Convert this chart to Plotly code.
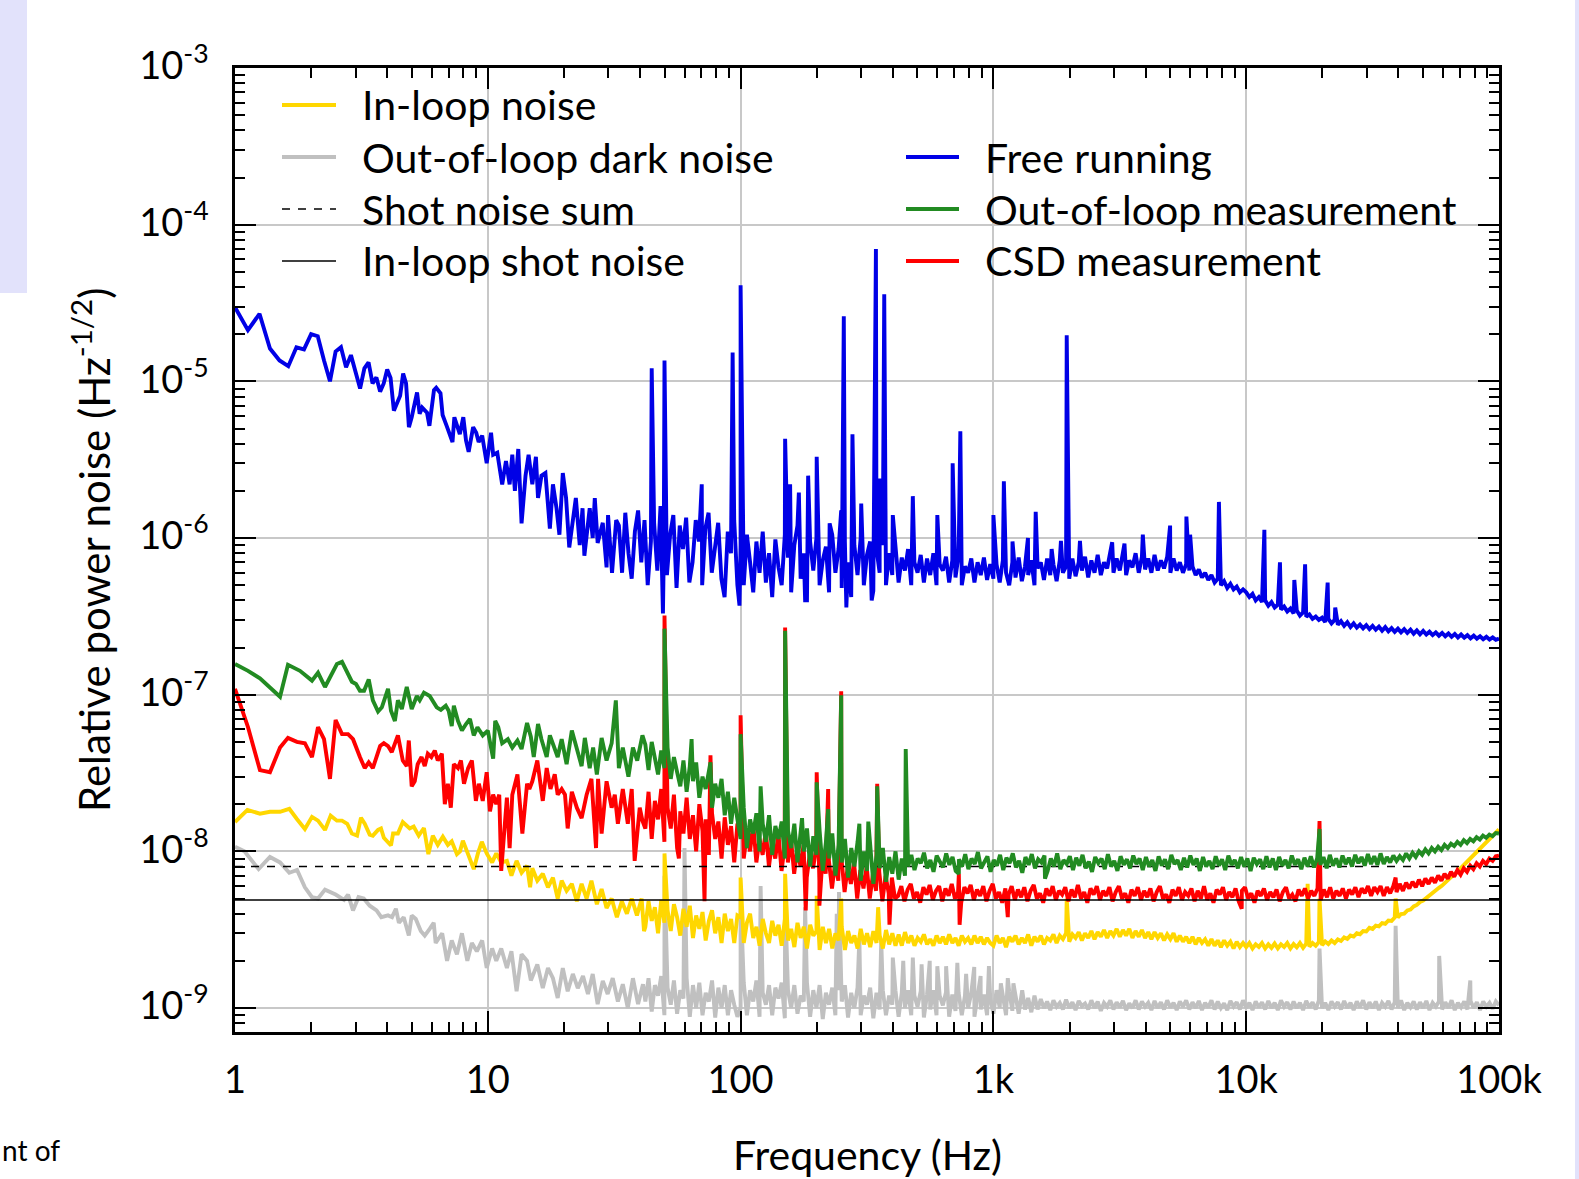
import numpy as np
import plotly.graph_objects as go

# ---------------------------------------------------------------------------
# Relative power noise spectra (amplitude spectral density, 1/sqrt(Hz))
# Each trace = low-frequency points (explicit f, value), blocks sampled on an
# even log-frequency grid, and narrow spectral lines / dips.
# ---------------------------------------------------------------------------

# ---- Free running (blue) ----
free_low_f = [1.0, 1.125, 1.25, 1.375, 1.5, 1.625, 1.75, 1.875, 2.0, 2.125, 2.25, 2.375, 2.5, 2.625,
              2.75, 2.875, 3.125, 3.25, 3.375, 3.5, 3.625, 3.75, 3.875, 4.0, 4.125, 4.25, 4.5, 4.625,
              4.75, 4.875, 5.0, 5.25, 5.375, 5.5, 5.75, 5.875, 6.125, 6.25, 6.5, 6.625, 6.875, 7.25,
              7.375, 7.75, 8.0, 8.2, 8.4, 8.75, 9.0, 9.2, 9.5, 9.9, 10.3, 10.5, 10.9, 11.4, 11.8, 12.2,
              12.5, 12.8, 13.2, 13.6, 14.1, 14.5, 15.0, 15.5, 15.8, 16.3, 16.9, 17.6, 18.1, 18.7, 19.2,
              19.8, 20.4, 21.0, 22.3, 23.1, 23.7, 24.1, 25.3, 26.0, 26.5, 27.2, 28.5, 29.5, 29.9, 31.0, 32.2]
free_low_v = [29.7, 21.2, 27.0, 16.2, 13.6, 12.5, 16.5, 16.0, 20.0, 19.4, 13.6, 10.0, 15.5, 16.5,
              12.3, 14.7, 9.0, 12.1, 13.2, 9.7, 10.6, 8.6, 9.7, 11.9, 10.5, 6.5, 8.1, 11.2,
              9.7, 5.1, 5.9, 8.5, 6.2, 6.8, 6.3, 5.2, 8.8, 9.1, 8.4, 6.1, 5.2, 4.1,
              5.9, 4.6, 5.9, 4.2, 3.55, 5.1, 4.7, 4.1, 4.5, 3.0, 4.7, 3.4, 3.5, 2.2, 3.1, 2.2,
              3.4, 2.0, 3.7, 1.24, 2.5, 3.4, 2.2, 3.3, 1.8, 2.5, 2.6, 1.15, 2.2, 1.55, 1.05,
              2.6, 1.8, 0.87, 1.8, 0.9, 1.55, 0.77, 1.55, 1.0, 1.8, 0.93, 1.25, 0.65, 1.4, 0.6, 1.3]  # x1e-6
free_33_100 = [1.2, 0.6, 1.45, 0.8, 0.55, 1.1, 1.5, 0.7, 1.3, 0.5,
               0.95, 1.25, 0.62, 1.6, 0.75, 0.58, 1.05, 1.4, 0.48, 1.2,
               0.85, 1.35, 0.52, 0.7, 1.3, 0.95, 0.5, 1.15, 1.45, 0.6,
               0.9, 1.25, 0.55, 0.42, 1.1, 0.8, 1.3, 0.5]  # x1e-6
free_100_1k = [0.9, 0.5, 1.05, 0.7, 0.45, 0.95, 0.6, 1.1, 0.52, 0.8,
               0.42, 0.98, 0.65, 0.5, 1.05, 0.75, 0.45, 0.9, 1.2, 0.55,
               0.8, 0.4, 0.95, 0.62, 1.0, 0.5, 0.72, 0.88, 0.45, 1.05,
               0.6, 0.85, 0.48, 0.95, 0.7, 0.42, 0.9, 0.58, 1.0, 0.5,
               0.78, 0.95, 0.46, 0.85, 0.6, 0.9, 0.5, 0.8,
               0.58, 0.82, 0.52, 0.75, 0.62, 0.85, 0.5, 0.7, 0.6, 0.78,
               0.52, 0.74, 0.58, 0.8, 0.5, 0.68, 0.62, 0.76, 0.52, 0.72,
               0.56, 0.78, 0.5, 0.66, 0.6, 0.74, 0.52, 0.7, 0.58, 0.75,
               0.54, 0.68]  # x1e-6
free_1k_10k = [0.55, 0.68, 0.52, 0.72, 0.6, 0.5, 0.7, 0.56, 0.75, 0.53,
               0.66, 0.58, 0.72, 0.5, 0.64, 0.7, 0.54, 0.74, 0.58, 0.68,
               0.53, 0.72, 0.6, 0.66, 0.55, 0.74, 0.57, 0.7, 0.62, 0.76,
               0.56, 0.72, 0.6, 0.78, 0.58, 0.7, 0.64, 0.8, 0.6, 0.74,
               0.62, 0.78, 0.58, 0.72, 0.65, 0.8, 0.6, 0.76, 0.63, 0.74,
               0.6, 0.78, 0.62, 0.72, 0.64, 0.76, 0.6, 0.74, 0.62, 0.7,
               0.6, 0.68, 0.62, 0.66, 0.58, 0.63, 0.56, 0.6, 0.54, 0.58,
               0.52, 0.55, 0.5, 0.53, 0.48, 0.51, 0.47, 0.49, 0.45, 0.47]  # x1e-6
free_10k_100k = [0.45, 0.42, 0.44, 0.4, 0.42, 0.39, 0.4, 0.37, 0.39, 0.36,
                 0.375, 0.35, 0.365, 0.34, 0.355, 0.33, 0.345, 0.32, 0.335, 0.315,
                 0.325, 0.305, 0.315, 0.3, 0.31, 0.29, 0.305, 0.285, 0.3, 0.28,
                 0.295, 0.275, 0.29, 0.27, 0.285, 0.268, 0.28, 0.265, 0.278, 0.262,
                 0.275, 0.26, 0.272, 0.256, 0.27, 0.254, 0.266, 0.252, 0.264, 0.25,
                 0.262, 0.248, 0.26, 0.245, 0.257, 0.243, 0.255, 0.242, 0.252, 0.24,
                 0.25, 0.238, 0.248, 0.236, 0.246, 0.234, 0.244, 0.232, 0.242, 0.231,
                 0.24, 0.229, 0.238, 0.228, 0.236, 0.226, 0.234, 0.225, 0.232, 0.224, 0.228]  # x1e-6
free_lines_f = [44.5, 49.3, 50.0, 70.2, 93.0, 99.0, 100.0, 150, 157, 170, 180, 185, 200, 225, 250,
                256, 262, 277, 300, 330, 343, 355, 370, 400, 480, 600, 690, 740, 1000, 1100, 1190,
                1370, 1470, 1700, 1850, 1950, 2200, 2950, 3300, 3900, 5000, 5800, 6000, 7800,
                11800, 13600, 15500, 17100, 21000, 22500]
free_lines_v = [12.1, 0.33, 13.6, 2.2, 15.3, 0.37, 41.0, 4.3, 2.2, 1.95, 0.4, 2.5, 3.3, 1.24, 1.5,
                26.0, 0.36, 4.6, 1.66, 0.4, 70.0, 2.4, 36.0, 1.4, 1.85, 1.4, 3.0, 4.8, 1.4, 2.3, 0.95,
                1.0, 1.47, 0.85, 0.96, 19.7, 0.96, 0.94, 0.92, 1.05, 1.2, 1.37, 1.05, 1.7,
                1.13, 0.7, 0.54, 0.68, 0.52, 0.36]  # x1e-6

# ---- Out-of-loop measurement (green) ----
ool_low_f = [1.0, 1.126, 1.255, 1.507, 1.62, 1.807, 2.016, 2.13, 2.27, 2.53,
             2.65, 2.9, 3.01, 3.12, 3.24, 3.38, 3.51, 3.68, 3.81, 4.03,
             4.14, 4.29, 4.41, 4.57, 4.78, 5.0, 5.24, 5.38, 5.59, 5.89,
             6.28, 6.52, 6.82, 7.0, 7.2, 7.34, 7.62, 7.9, 8.2, 8.5,
             8.8, 9.1, 9.55, 10.0, 10.5, 10.7, 11.0, 11.4, 12.0, 12.5,
             13.1, 13.6, 14.3, 14.8, 15.2, 15.8, 16.3, 17.1, 17.6, 18.4,
             18.9, 19.6, 20.5, 21.5, 22.5, 23.5, 24.2, 25.3, 26.1, 27.0,
             28.2, 29.5, 30.9, 33.0, 34.2, 36.0, 37.5, 39.0, 40.9]
ool_low_v = [15.7, 14.2, 12.7, 9.7, 15.5, 14.2, 12.3, 13.8, 11.2, 15.7,
             16.2, 12.1, 11.7, 10.6, 10.6, 12.5, 9.2, 7.8, 8.3, 10.9,
             7.9, 6.8, 9.2, 8.1, 11.2, 8.1, 9.8, 9.2, 10.3, 9.8,
             8.3, 8.0, 8.5, 7.9, 6.3, 8.5, 6.8, 5.9, 6.5, 7.0,
             5.5, 6.2, 5.5, 5.9, 3.9, 6.8, 6.2, 4.9, 5.2, 4.6,
             5.1, 4.5, 6.6, 5.4, 4.0, 6.5, 5.2, 4.0, 5.5, 4.6,
             4.0, 5.2, 3.6, 5.9, 4.6, 3.5, 5.3, 3.4, 4.6, 3.1,
             5.3, 3.8, 4.9, 3.4, 4.6, 3.0, 4.6, 3.8, 5.5]  # x1e-8
ool_42_100 = [4.8, 3.3, 5.0, 3.8, 3.1, 4.4, 3.4, 4.6, 2.9, 4.0,
              3.2, 2.6, 3.8, 2.4, 3.5, 2.8, 3.7, 2.2, 3.0, 2.5,
              3.2, 1.9, 2.7, 2.2, 2.9, 1.7, 2.4, 1.5, 2.2, 1.6]  # x1e-8
ool_100_460 = [1.2, 1.9, 1.05, 1.6, 1.3, 1.75, 1.0, 1.5, 1.15, 1.7,
               0.95, 1.45, 1.2, 1.55, 0.9, 1.35, 1.05, 1.5, 0.85, 1.3,
               1.0, 1.4, 0.8, 1.25, 0.95, 1.35, 0.75, 1.15, 0.9, 1.3,
               0.7, 1.1, 0.85, 1.2, 0.68, 1.05, 0.8, 1.15, 0.65, 1.0,
               0.75, 1.1, 0.62, 0.95, 0.78, 1.05, 0.64, 0.92, 0.72, 1.0,
               0.66, 0.9, 0.7]  # x1e-8
ool_460_35k = [0.8, 0.95, 0.76, 0.9, 0.84, 0.98, 0.78, 0.88, 0.74, 0.94,
               0.86, 0.79, 0.97, 0.82, 0.92, 0.75, 0.89, 0.8, 0.96, 0.77,
               0.9, 0.83, 0.99, 0.78, 0.86, 0.93, 0.74, 0.88, 0.81, 0.95,
               0.76, 0.91, 0.84, 0.97, 0.79, 0.87, 0.73, 0.92, 0.82, 0.96,
               0.78, 0.89, 0.85, 0.94, 0.75, 0.9, 0.8, 0.97, 0.77, 0.88,
               0.83, 0.93, 0.76, 0.91, 0.81, 0.95, 0.78, 0.86, 0.74, 0.92,
               0.84, 0.9, 0.77, 0.96, 0.8, 0.87, 0.75, 0.93, 0.82, 0.89,
               0.78, 0.94, 0.83, 0.9, 0.76, 0.92, 0.8, 0.88, 0.75, 0.93,
               0.81, 0.89, 0.77, 0.95, 0.83, 0.88, 0.76, 0.91, 0.79, 0.94,
               0.82, 0.9, 0.75, 0.92, 0.8, 0.87, 0.77, 0.93, 0.81, 0.89,
               0.76, 0.94, 0.82, 0.88, 0.78, 0.92, 0.8, 0.9, 0.75, 0.91,
               0.83, 0.89, 0.77, 0.93, 0.79, 0.9, 0.76, 0.92, 0.81, 0.88,
               0.78, 0.94, 0.82, 0.89, 0.77, 0.91, 0.8, 0.93, 0.79, 0.9,
               0.82, 0.92, 0.78, 0.95, 0.81, 0.9, 0.79, 0.94, 0.83, 0.91,
               0.8, 0.95, 0.84, 0.92, 0.81, 0.96, 0.83, 0.93, 0.82, 0.97]  # x1e-8
ool_35k_100k = [0.83, 0.92, 0.85, 0.94, 0.87, 0.93, 0.88, 0.97, 0.9, 0.98,
                0.92, 1.0, 0.95, 1.03, 0.97, 1.05, 1.0, 1.07, 1.02, 1.1,
                1.05, 1.12, 1.08, 1.15, 1.1, 1.18, 1.13, 1.2, 1.16, 1.23,
                1.19, 1.26, 1.22, 1.28, 1.25, 1.31, 1.3]  # x1e-8
ool_lines_f = [32.1, 50, 64, 76, 100, 120, 150, 175, 200, 222, 250, 295, 320, 347, 450, 730, 1600, 19500]
ool_lines_v = [9.2, 26.4, 5.2, 3.7, 5.6, 2.6, 25.6, 1.63, 2.76, 1.86, 9.9, 1.5, 1.55, 2.6, 4.5, 0.72, 0.67, 1.39]  # x1e-8

# ---- CSD measurement (red) ----
csd_low_f = [1.0, 1.126, 1.255, 1.375, 1.507, 1.62, 1.757, 1.89, 2.016, 2.13,
             2.25, 2.375, 2.5, 2.65, 2.8, 2.93, 3.12, 3.26, 3.38, 3.51,
             3.75, 3.88, 4.03, 4.17, 4.41, 4.61, 4.78, 4.87, 5.0, 5.14,
             5.28, 5.47, 5.63, 5.79, 5.98, 6.17, 6.34, 6.58, 6.76, 6.95,
             7.14, 7.34, 7.62, 7.83, 8.05, 8.36, 8.65, 8.97, 9.22, 9.55,
             9.9, 10.2, 10.5, 10.8, 11.1, 11.3, 11.9, 12.2, 12.5, 13.1,
             13.7, 14.3, 14.6, 15.0, 15.7, 16.5, 17.1, 17.7, 18.4, 18.9,
             19.6, 20.2, 20.7, 21.5, 22.5, 23.5, 24.6, 25.7, 26.8, 27.3,
             28.2, 29.5, 30.9, 31.8, 32.7, 34.2, 35.8, 37.1, 38.1, 39.9, 40.9]
csd_low_v = [10.9, 6.2, 3.3, 3.2, 4.6, 5.3, 5.0, 4.9, 4.0, 6.2,
             5.2, 2.9, 6.9, 5.6, 5.6, 5.2, 4.0, 3.4, 3.7, 3.4,
             4.7, 4.9, 4.7, 4.3, 5.5, 3.8, 3.5, 5.1, 2.6, 2.8,
             3.6, 4.0, 3.5, 4.2, 4.0, 4.4, 3.8, 4.2, 2.0, 2.7,
             1.9, 3.6, 3.4, 3.8, 2.7, 3.4, 3.8, 2.1, 2.7, 2.1,
             3.2, 1.8, 2.3, 2.0, 2.3, 0.75, 2.2, 1.05, 2.3, 3.1,
             1.3, 2.7, 2.5, 2.8, 3.8, 2.1, 3.4, 2.5, 3.1, 2.3,
             2.5, 2.3, 1.4, 2.4, 1.9, 1.63, 2.3, 2.9, 1.05, 2.9,
             1.3, 2.8, 1.9, 2.3, 1.5, 2.5, 1.5, 2.5, 0.87, 1.9, 1.57]  # x1e-8
csd_42_100 = [1.4, 2.4, 1.2, 2.1, 1.6, 2.5, 1.15, 1.9, 1.4, 2.3,
              1.05, 1.8, 1.3, 2.2, 1.2, 1.7, 1.0, 2.0, 1.35, 1.6,
              0.95, 1.75, 1.2, 1.55, 0.9, 1.65, 1.1, 1.45, 0.85, 1.5]  # x1e-8
csd_100_420 = [1.45, 0.9, 1.3, 1.0, 1.5, 0.85, 1.2, 0.95, 1.35, 0.8,
               1.15, 0.9, 1.3, 0.75, 1.1, 0.85, 1.2, 0.72, 1.05, 0.8,
               1.1, 0.68, 0.98, 0.78, 1.05, 0.65, 0.92, 0.72, 0.88, 0.58,
               0.85, 0.65, 0.9, 0.55, 0.8, 0.62, 0.85, 0.5, 0.76, 0.58,
               0.8, 0.5, 0.72, 0.56, 0.74, 0.48, 0.7, 0.54, 0.68, 0.5]  # x1e-8
csd_420_35k = [0.52, 0.6, 0.48, 0.57, 0.62, 0.5, 0.55, 0.47, 0.59, 0.53,
               0.61, 0.49, 0.56, 0.6, 0.48, 0.58, 0.52, 0.62, 0.5, 0.55,
               0.47, 0.59, 0.54, 0.61, 0.49, 0.57, 0.52, 0.6, 0.48, 0.56,
               0.62, 0.5, 0.55, 0.47, 0.58, 0.53, 0.6, 0.49, 0.57, 0.51,
               0.59, 0.48, 0.56, 0.61, 0.5, 0.54, 0.47, 0.58, 0.52, 0.6,
               0.49, 0.56, 0.53, 0.59, 0.48, 0.57, 0.51, 0.61, 0.5, 0.55,
               0.47, 0.58, 0.53, 0.6, 0.49, 0.56, 0.52, 0.59, 0.48, 0.55,
               0.6, 0.5, 0.54, 0.47, 0.57, 0.52, 0.59, 0.49, 0.56, 0.51,
               0.58, 0.48, 0.55, 0.6, 0.5, 0.53, 0.47, 0.57, 0.52, 0.59,
               0.49, 0.55, 0.52, 0.58, 0.48, 0.56, 0.5, 0.6, 0.49, 0.54,
               0.47, 0.57, 0.53, 0.59, 0.49, 0.55, 0.51, 0.58, 0.48, 0.56,
               0.59, 0.5, 0.54, 0.47, 0.56, 0.52, 0.58, 0.49, 0.55, 0.51,
               0.57, 0.48, 0.55, 0.59, 0.5, 0.53, 0.48, 0.57, 0.52, 0.58,
               0.5, 0.56, 0.52, 0.58, 0.49, 0.57, 0.51, 0.59, 0.5, 0.56,
               0.52, 0.58, 0.5, 0.57, 0.53, 0.59, 0.51, 0.58, 0.54, 0.6,
               0.52, 0.59, 0.55, 0.6]  # x1e-8
csd_35k_100k = [0.52, 0.59, 0.54, 0.6, 0.55, 0.62, 0.56, 0.63, 0.58, 0.64,
                0.59, 0.66, 0.6, 0.67, 0.62, 0.68, 0.63, 0.7, 0.65, 0.72,
                0.67, 0.74, 0.69, 0.76, 0.71, 0.78, 0.74, 0.81, 0.77, 0.84,
                0.8, 0.87, 0.83, 0.9, 0.87, 0.93, 0.94]  # x1e-8
csd_lines_f = [50, 57, 72, 76, 100, 150, 181, 200, 205, 222, 250, 347, 388, 730, 735, 1140, 9600, 19500, 39000]
csd_lines_v = [32.0, 0.9, 0.48, 4.1, 7.4, 26.8, 0.42, 3.2, 0.45, 2.5, 10.5, 2.7, 0.34, 0.72, 0.34, 0.38, 0.43, 1.56, 0.68]  # x1e-8

# ---- In-loop noise (yellow) ----
inl_low_f = [1.0, 1.12, 1.255, 1.375, 1.507, 1.64, 1.757, 1.89, 2.016, 2.13,
             2.27, 2.39, 2.53, 2.65, 2.78, 2.9, 3.04, 3.15, 3.26, 3.41,
             3.51, 3.68, 3.78, 3.88, 4.14, 4.22, 4.41, 4.61, 4.91, 5.09,
             5.33, 5.59, 5.82, 6.06, 6.34, 6.64, 6.95, 7.2, 7.55, 7.76,
             7.97, 8.36, 8.8, 9.14, 9.47, 9.9, 10.4, 10.8, 11.3, 11.9,
             12.4, 13.0, 13.6, 14.3, 14.7, 15.0, 15.7, 16.5, 17.3, 18.1,
             18.9, 19.6, 20.5, 21.5, 22.5, 23.5, 24.6, 25.7, 27.0, 28.2,
             29.5, 30.9, 32.4, 33.9, 35.5, 37.1, 38.9, 40.6]
inl_low_v = [1.54, 1.84, 1.74, 1.79, 1.79, 1.87, 1.61, 1.39, 1.66, 1.57,
             1.37, 1.69, 1.57, 1.57, 1.5, 1.3, 1.26, 1.64, 1.5, 1.28,
             1.26, 1.37, 1.4, 1.22, 1.09, 1.3, 1.3, 1.54, 1.4, 1.44,
             1.26, 1.41, 0.96, 1.26, 1.1, 1.24, 1.1, 1.16, 0.96, 1.0,
             1.17, 0.97, 0.77, 0.97, 1.15, 0.97, 0.85, 0.97, 0.85, 0.87,
             0.7, 0.87, 0.73, 0.81, 0.59, 0.78, 0.65, 0.72, 0.59, 0.68,
             0.5, 0.65, 0.56, 0.62, 0.48, 0.62, 0.5, 0.65, 0.46, 0.575,
             0.435, 0.5, 0.38, 0.48, 0.4, 0.5, 0.39, 0.5]  # x1e-8
inl_42_100 = [3.3, 4.8, 3.6, 4.4, 3.0, 4.9, 3.5, 4.2, 3.1, 4.6,
              3.8, 2.9, 4.3, 3.3, 4.5, 2.8, 3.9, 3.2, 4.1, 2.7,
              3.6, 4.2, 3.0, 3.8, 2.6, 4.0, 3.1, 3.7, 2.6, 3.9]  # x1e-9
inl_100_460 = [3.8, 2.6, 3.5, 4.0, 2.8, 3.3, 2.5, 3.7, 3.0, 2.6,
               3.6, 2.9, 3.4, 2.5, 3.7, 2.7, 3.2, 2.45, 3.5, 2.8,
               3.3, 2.4, 3.4, 2.9, 3.1, 2.35, 3.3, 2.6, 3.2, 2.4,
               3.0, 2.7, 3.3, 2.35, 3.1, 2.6, 2.9, 2.4, 3.2, 2.55,
               3.0, 2.45, 3.1, 2.6, 2.9, 2.4, 3.15, 2.55, 3.0, 2.5,
               2.95, 2.5, 3.05]  # x1e-9
inl_460_1k = [2.6, 2.9, 2.5, 2.8, 2.65, 2.95, 2.55, 2.75, 2.5, 2.9,
              2.6, 2.85, 2.55, 2.95, 2.6, 2.8, 2.5, 2.9, 2.65, 2.8,
              2.55, 2.9, 2.6, 2.85, 2.55, 2.8, 2.6]  # x1e-9
inl_1k_10k = [2.5, 2.9, 2.6, 2.8, 2.45, 2.85, 2.65, 2.9, 2.55, 2.8,
              2.6, 2.95, 2.5, 2.85, 2.65, 2.9, 2.55, 2.8, 2.7, 2.95,
              2.6, 2.9, 2.75, 3.0, 2.65, 2.95, 2.8, 3.05, 2.7, 3.0,
              2.8, 3.1, 2.75, 3.05, 2.85, 3.15, 2.8, 3.1, 2.9, 3.2,
              2.85, 3.15, 2.9, 3.2, 2.8, 3.1, 2.85, 3.15, 2.8, 3.05,
              2.75, 3.05, 2.8, 3.0, 2.7, 2.95, 2.75, 3.0, 2.65, 2.9,
              2.65, 2.85, 2.6, 2.85, 2.55, 2.8, 2.6, 2.75, 2.5, 2.75,
              2.5, 2.7, 2.45, 2.7, 2.5, 2.65, 2.4, 2.65, 2.45, 2.6]  # x1e-9
inl_10k_100k = [2.45, 2.6, 2.4, 2.55, 2.45, 2.6, 2.4, 2.55, 2.42, 2.58,
                2.4, 2.55, 2.45, 2.6, 2.4, 2.56, 2.44, 2.6, 2.42, 2.58,
                2.46, 2.6, 2.5, 2.64, 2.52, 2.66, 2.56, 2.7, 2.6, 2.74,
                2.68, 2.82, 2.76, 2.9, 2.86, 3.0, 2.96, 3.1, 3.08, 3.25,
                3.2, 3.36, 3.32, 3.48, 3.45, 3.62, 3.6, 3.78, 3.78, 3.98,
                4.0, 4.2, 4.25, 4.45, 4.55, 4.75, 4.85, 5.05, 5.2, 5.45,
                5.6, 5.85, 6.05, 6.35, 6.6, 6.9, 7.15, 7.5, 7.8, 8.2,
                8.6, 9.1, 9.5, 10.0, 10.5, 11.0, 11.5, 12.1, 12.6, 13.3, 13.8]  # x1e-9
inl_lines_f = [41.5, 50, 100, 150, 200, 250, 350, 1950, 17500, 19500, 39000]
inl_lines_v = [3.1, 9.7, 6.8, 7.2, 5.2, 5.0, 4.4, 5.0, 6.2, 5.0, 5.0]  # x1e-9

# ---- Out-of-loop dark noise (grey) ----
dark_low_f = [1.0, 1.09, 1.24, 1.375, 1.507, 1.64, 1.76, 1.89, 2.016, 2.13,
              2.27, 2.5, 2.7, 2.8, 2.93, 3.08, 3.23, 3.41, 3.63, 3.79,
              4.03, 4.18, 4.33, 4.45, 4.65, 4.87, 5.0, 5.19, 5.43, 5.63,
              5.89, 6.11, 6.22, 6.6, 6.9, 7.2, 7.55, 7.9, 8.3, 8.65,
              9.05, 9.5, 9.9, 10.4, 10.8, 11.3, 11.9, 12.4, 13.0, 13.6,
              14.3, 14.8, 15.7, 16.5, 17.3, 18.1, 18.9, 19.8, 20.7, 21.7,
              22.7, 23.8, 24.9, 26.0, 27.2, 28.5, 29.8, 31.2, 32.7, 34.2,
              35.8, 37.5, 39.3, 41.1]
dark_low_v = [10.7, 10.0, 7.7, 9.2, 8.5, 7.3, 7.6, 5.9, 5.1, 5.0,
              5.7, 5.3, 4.9, 5.3, 4.2, 5.1, 5.0, 4.5, 4.2, 3.8,
              3.9, 3.8, 4.3, 3.5, 3.8, 2.9, 3.9, 3.7, 3.1, 2.9,
              3.2, 3.5, 2.6, 3.0, 2.0, 2.7, 2.2, 3.0, 2.0, 2.6,
              2.3, 2.7, 1.8, 2.4, 2.0, 2.4, 1.8, 2.3, 1.28, 2.2,
              2.0, 1.5, 1.9, 1.34, 1.8, 1.55, 1.16, 1.8, 1.28, 1.65,
              1.34, 1.6, 1.23, 1.65, 1.06, 1.49, 1.23, 1.55, 1.1, 1.42,
              1.0, 1.55, 1.06, 1.42]  # x1e-9
dark_42_100 = [1.1, 1.55, 0.95, 1.4, 1.2, 1.6, 0.9, 1.35, 1.05, 1.5,
               0.92, 1.3, 1.15, 1.55, 0.88, 1.4, 1.0, 1.45, 0.9, 1.25,
               1.1, 1.5, 0.87, 1.35, 1.0, 1.4, 0.9, 1.3, 1.05, 0.88]  # x1e-9
dark_100_1k = [1.0, 1.45, 0.9, 1.3, 1.1, 1.5, 0.88, 1.25, 1.05, 1.4,
               0.9, 1.35, 1.15, 1.45, 0.86, 1.3, 1.0, 1.4, 0.92, 1.2,
               1.1, 1.45, 0.88, 1.3, 1.0, 1.4, 0.85, 1.25, 1.05, 1.35,
               0.9, 1.3, 1.1, 1.4, 0.87, 1.25, 1.0, 1.35, 0.9, 1.2,
               1.05, 1.35, 0.86, 1.25, 0.98, 1.3, 0.9, 1.2, 1.05, 1.3,
               0.88, 1.25, 1.0, 1.3, 0.9, 1.2, 1.02, 1.28, 0.87, 1.22,
               0.98, 1.3, 0.9, 1.2, 1.04, 1.26, 0.88, 1.22, 0.96, 1.25,
               0.9, 1.2, 1.0, 1.25, 0.88, 1.18, 0.98, 1.22, 0.9, 1.15]  # x1e-9
dark_1k_100k = [0.92, 1.3, 1.0, 1.22, 0.9, 1.28, 0.96, 1.2, 0.92, 1.25, 0.98, 1.16, 0.94, 1.2, 0.98, 1.14,
                1.0, 1.1, 0.97, 1.12, 1.02, 1.08, 0.98, 1.13, 1.0, 1.09,
                0.97, 1.11, 1.03, 1.07, 0.98, 1.12, 1.0, 1.1, 0.96, 1.08,
                1.02, 1.12, 0.98, 1.09, 1.01, 1.11, 0.97, 1.07, 1.0, 1.12,
                0.98, 1.1, 1.02, 1.08, 0.97, 1.11, 1.0, 1.09, 0.98, 1.12,
                1.01, 1.08, 0.97, 1.1, 1.02, 1.12, 0.98, 1.09, 1.0, 1.11,
                0.97, 1.08, 1.01, 1.12, 0.98, 1.1, 1.0, 1.07, 0.97, 1.11,
                1.02, 1.09, 0.98, 1.12, 1.0, 1.08, 0.97, 1.1, 1.01, 1.09,
                0.98, 1.11, 1.0, 1.08, 0.97, 1.12, 1.02, 1.09, 0.98, 1.1,
                1.0, 1.08, 0.97, 1.11, 1.01, 1.09, 0.98, 1.12, 1.0, 1.08,
                0.97, 1.1, 1.02, 1.09, 0.98, 1.11, 1.0, 1.08, 0.97, 1.1,
                1.01, 1.12, 0.98, 1.09, 1.0, 1.1, 0.97, 1.08, 1.02, 1.11,
                0.98, 1.09, 1.0, 1.12, 0.97, 1.08, 1.01, 1.1, 0.98, 1.09,
                1.0, 1.11, 0.97, 1.08, 1.02, 1.1, 0.98, 1.09, 1.0, 1.12,
                0.97, 1.08, 1.01, 1.1, 0.98, 1.11, 1.0, 1.09, 0.97, 1.1,
                1.02, 1.08, 0.99, 1.1, 1.04]  # x1e-9
dark_lines_f = [50, 60, 100, 120, 150, 180, 240, 245, 295, 360, 400, 440, 480, 520, 560, 600, 650,
                720, 780, 840, 890, 960, 1070, 1140, 1200, 1300, 19500, 39000, 58000, 77000]
dark_lines_v = [7.0, 10.5, 5.0, 6.0, 5.0, 4.4, 4.0, 5.5, 2.8, 2.7, 2.1, 2.0, 2.1, 1.9, 2.0, 1.85, 1.85,
                1.94, 1.65, 1.83, 1.6, 1.85, 1.44, 1.55, 1.44, 1.3, 2.4, 3.35, 2.15, 1.5]  # x1e-9

# ---- Shot-noise levels ----
shot_sum_level = 8.0e-9
inloop_shot_level = 4.9e-9

# ---- Axis labels ----
x_tick_vals = [1, 10, 100, 1000, 10000, 100000]
x_tick_text = ["1", "10", "100", "1k", "10k", "100k"]
y_tick_vals = [1e-9, 1e-8, 1e-7, 1e-6, 1e-5, 1e-4, 1e-3]
y_tick_text = ["10<sup>-9</sup>", "10<sup>-8</sup>", "10<sup>-7</sup>", "10<sup>-6</sup>",
               "10<sup>-5</sup>", "10<sup>-4</sup>", "10<sup>-3</sup>"]


def assemble(low_f, low_v, low_unit, blocks, line_f, line_v, line_unit):
    pts = [(f, v * low_unit) for f, v in zip(low_f, low_v)]
    for lo, hi, vals, unit in blocks:
        grid = np.geomspace(lo, hi, len(vals), endpoint=(hi >= 1e5))
        pts += [(float(f), v * unit) for f, v in zip(grid, vals)]
    pts += [(f, v * line_unit) for f, v in zip(line_f, line_v)]
    pts.sort(key=lambda p: p[0])
    return [p[0] for p in pts], [p[1] for p in pts]


free_f, free_v = assemble(free_low_f, free_low_v, 1e-6,
                          [(33, 100, free_33_100, 1e-6), (100, 1000, free_100_1k, 1e-6),
                           (1000, 10000, free_1k_10k, 1e-6), (10000, 100000, free_10k_100k, 1e-6)],
                          free_lines_f, free_lines_v, 1e-6)
ool_f, ool_v = assemble(ool_low_f, ool_low_v, 1e-8,
                        [(42, 100, ool_42_100, 1e-8), (100, 460, ool_100_460, 1e-8),
                         (460, 35000, ool_460_35k, 1e-8), (35000, 100000, ool_35k_100k, 1e-8)],
                        ool_lines_f, ool_lines_v, 1e-8)
csd_f, csd_v = assemble(csd_low_f, csd_low_v, 1e-8,
                        [(42, 100, csd_42_100, 1e-8), (100, 420, csd_100_420, 1e-8),
                         (420, 35000, csd_420_35k, 1e-8), (35000, 100000, csd_35k_100k, 1e-8)],
                        csd_lines_f, csd_lines_v, 1e-8)
inl_f, inl_v = assemble(inl_low_f, inl_low_v, 1e-8,
                        [(42, 100, inl_42_100, 1e-9), (100, 460, inl_100_460, 1e-9),
                         (460, 1000, inl_460_1k, 1e-9), (1000, 10000, inl_1k_10k, 1e-9),
                         (10000, 100000, inl_10k_100k, 1e-9)],
                        inl_lines_f, inl_lines_v, 1e-9)
dark_f, dark_v = assemble(dark_low_f, dark_low_v, 1e-9,
                          [(42, 100, dark_42_100, 1e-9), (100, 1000, dark_100_1k, 1e-9),
                           (1000, 100000, dark_1k_100k, 1e-9)],
                          dark_lines_f, dark_lines_v, 1e-9)

FONT = "Lato, 'Open Sans', sans-serif"
C_BLUE, C_GREEN, C_RED = "#0000e6", "#228b22", "#ff0000"
C_YELLOW, C_GREY = "#ffd700", "#c0c0c0"
LW = 3.9

fig = go.Figure()


def add_line(f, v, color, width=LW, dash=None):
    fig.add_trace(go.Scatter(x=f, y=v, mode="lines", hoverinfo="skip",
                             line=dict(color=color, width=width, dash=dash)))


add_line(dark_f, dark_v, C_GREY)
add_line(inl_f, inl_v, C_YELLOW)
add_line(csd_f, csd_v, C_RED)
add_line([1, 1e5], [shot_sum_level] * 2, "black", 1.5, "8px,8px")
add_line([1, 1e5], [inloop_shot_level] * 2, "black", 1.5)
add_line(ool_f, ool_v, C_GREEN)
add_line(free_f, free_v, C_BLUE)

# carrier for the top/right tick axes
fig.add_trace(go.Scatter(x=[10], y=[1e-5], xaxis="x2", yaxis="y2", mode="markers",
                         marker=dict(opacity=0), hoverinfo="skip"))

L, T, W, H = 235, 68, 1264, 964


def px(x):
    return (x - L) / W


def py(y):
    return 1 - (y - T) / H


tick_style = dict(type="log", ticks="inside", tickcolor="black", tickwidth=2, ticklen=21,
                  zeroline=False,
                  minor=dict(ticks="inside", ticklen=10, tickwidth=1.6, tickcolor="black",
                             dtick="D1", showgrid=False))

fig.update_layout(
    width=1579, height=1179,
    margin=dict(l=L, r=1579 - L - W, t=T, b=1179 - T - H),
    paper_bgcolor="white", plot_bgcolor="white", showlegend=False,
    font=dict(family=FONT, color="black", size=38),
    xaxis=dict(range=[0, 5], showgrid=True, gridcolor="#c8c8c8", gridwidth=1.5,
               showline=True, linecolor="black", linewidth=2.5, mirror=True,
               tickmode="array", tickvals=x_tick_vals, ticktext=x_tick_text,
               tickfont=dict(size=38, family=FONT, color="black"), ticklabelstandoff=13,
               **tick_style),
    yaxis=dict(range=[-9.153, -3], showgrid=True, gridcolor="#c8c8c8", gridwidth=1.5,
               showline=True, linecolor="black", linewidth=2.5, mirror=True,
               tickmode="array", tickvals=y_tick_vals, ticktext=y_tick_text,
               tickfont=dict(size=38, family=FONT, color="black"), ticklabelstandoff=16,
               ticklabelshift=-2, **tick_style),
    xaxis2=dict(range=[0, 5], overlaying="x", side="top", anchor="y", showgrid=False,
                showline=False, dtick=1, showticklabels=False, **tick_style),
    yaxis2=dict(range=[-9.153, -3], overlaying="y", side="right", anchor="x", showgrid=False,
                showline=False, dtick=1, showticklabels=False, **tick_style),
)

shapes = []
annotations = []

# white legend panel over the upper part of the plot area (under the traces)
shapes.append(dict(type="rect", xref="paper", yref="paper", x0=0.002, x1=0.998,
                   y0=py(292), y1=0.998, fillcolor="white", line=dict(width=0), layer="between"))

# axis titles
annotations.append(dict(x=0.5, xref="paper", y=py(1154), yref="paper", text="Frequency (Hz)",
                        showarrow=False, xanchor="center", yanchor="middle",
                        font=dict(size=41, family=FONT)))
annotations.append(dict(x=px(91), xref="paper", y=0.5, yref="paper",
                        text="Relative power noise (Hz<sup>-1/2</sup>)", textangle=-90,
                        showarrow=False, xanchor="center", yanchor="middle",
                        font=dict(size=42, family=FONT)))

# legend
legend_items = [
    (282, 336, 360, 105, C_YELLOW, LW, None, "In-loop noise"),
    (282, 336, 360, 157, C_GREY, LW, None, "Out-of-loop dark noise"),
    (282, 336, 360, 209, "black", 1.5, "8px,8px", "Shot noise sum"),
    (282, 336, 360, 261, "black", 1.5, None, "In-loop shot noise"),
    (906, 959, 983, 157, C_BLUE, LW, None, "Free running"),
    (906, 959, 983, 209, C_GREEN, LW, None, "Out-of-loop measurement"),
    (906, 959, 983, 261, C_RED, LW, None, "CSD measurement"),
]
for x0, x1, xt, yy, col, w, dash, label in legend_items:
    ln = dict(color=col, width=w)
    if dash:
        ln["dash"] = dash
    shapes.append(dict(type="line", xref="paper", yref="paper", x0=px(x0), x1=px(x1),
                       y0=py(yy), y1=py(yy), line=ln, layer="above"))
    annotations.append(dict(x=px(xt), xref="paper", y=py(yy), yref="paper", text=label,
                            showarrow=False, xanchor="left", yanchor="middle",
                            font=dict(size=41, family=FONT)))

# surrounding page elements
shapes.append(dict(type="rect", xref="paper", yref="paper", x0=px(0), x1=px(27),
                   y0=py(293), y1=py(0), fillcolor="#e2e2fb", line=dict(width=0), layer="above"))
shapes.append(dict(type="rect", xref="paper", yref="paper", x0=px(1575), x1=px(1582),
                   y0=py(1182), y1=py(-3), fillcolor="#e2e2fb", line=dict(width=0), layer="above"))
annotations.append(dict(x=px(0), xref="paper", y=py(1150), yref="paper", text="nt of",
                        showarrow=False, xanchor="left", yanchor="middle",
                        font=dict(size=28, family=FONT)))

fig.update_layout(shapes=shapes, annotations=annotations)
fig.write_html("out.html")
